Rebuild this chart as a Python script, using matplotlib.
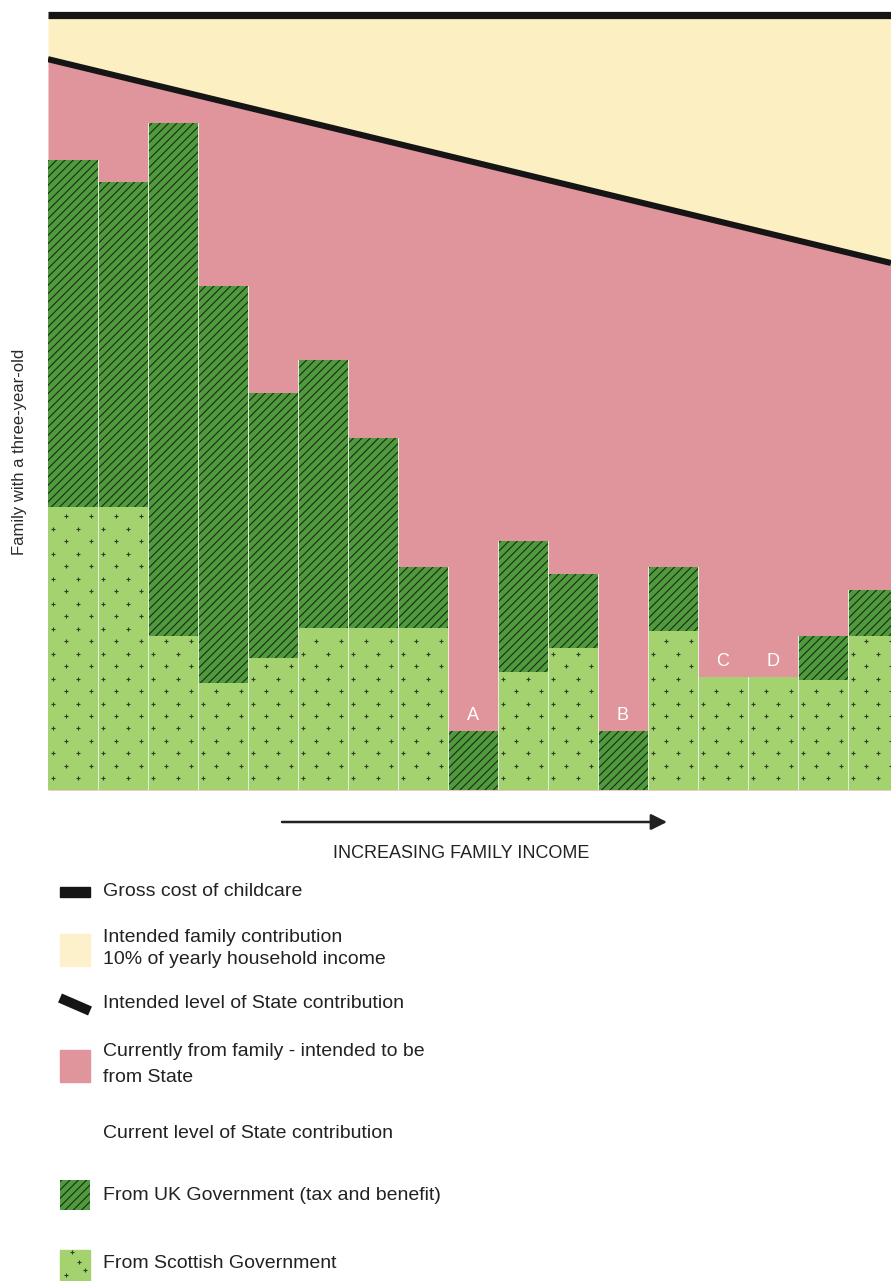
import matplotlib
matplotlib.use('Agg')
import matplotlib.pyplot as plt
from matplotlib.patches import Rectangle

plt.rcParams['font.family'] = ['Liberation Sans', 'DejaVu Sans']
plt.rcParams['hatch.linewidth'] = 0.8
plt.rcParams['hatch.color'] = '#1c2a16'

# ---------------- data (relative cost units, gross cost = 100) ----------------
families = list(range(1, 18))
scottish = [36.5, 36.5, 19.9, 13.8, 17.0, 20.9, 20.9, 20.9, 0.0, 15.2, 18.3, 0.0,
            20.5, 14.6, 14.6, 14.2, 19.9]
uk = [44.8, 42.0, 66.2, 51.2, 34.2, 34.6, 24.5, 7.9, 7.6, 16.9, 9.6, 7.6,
      8.3, 0.0, 0.0, 5.7, 5.9]
bar_labels = ['', '', '', '', '', '', '', '', 'A', '', '', 'B', '', 'C', 'D', '', '']
gross_cost = 100.0
income_ends = [0.0, 16.86]
intended_state = [94.3, 68.0]

# ---------------- colours ----------------
YELLOW = '#fcefc2'
PINK = '#df959b'
UKGREEN = '#4f9a3c'
SCGREEN = '#a4d26f'
BLACK = '#151515'
CROSS = '#2e3d27'

W, H = 891, 1281
fig = plt.figure(figsize=(W / 100, H / 100), dpi=100)
ax = fig.add_axes([48 / W, 1 - 790 / H, 1 - 48 / W, (790 - 8) / H])
ax.set_xlim(income_ends[0], income_ends[1])
ax.set_ylim(0, (790 - 8) / 7.75)
ax.axis('off')

# backgrounds
ax.fill_between(income_ends, 0, intended_state, color=PINK, lw=0, zorder=1)
ax.fill_between(income_ends, intended_state, gross_cost, color=YELLOW, lw=0, zorder=1)

# bars
x = list(range(len(families)))
ax.bar(x, scottish, width=1, align='edge', color=SCGREEN, lw=0, zorder=2)
ax.bar(x, uk, width=1, align='edge', bottom=scottish, facecolor=UKGREEN,
       hatch='////', lw=0, zorder=2)

# cross texture on Scottish bars
xs, ys = [], []
row_h = 1.61
for r in range(30):
    yy = 1.5 + r * row_h
    off = 0.1 if r % 2 == 0 else 0.35
    for k in range(40):
        xx = off + k * 0.5
        i = int(xx)
        if i < len(scottish) and xx < income_ends[1] and yy < scottish[i] - 0.5:
            xs.append(xx)
            ys.append(yy)
ax.scatter(xs, ys, marker='+', s=10, linewidths=0.8, color=CROSS, zorder=3)

# separators between bars
totals = [s + u for s, u in zip(scottish, uk)]
for i in range(1, len(families)):
    top = max(totals[i - 1], totals[i])
    ax.plot([i, i], [0, top], color='#e4efe0', lw=0.7, zorder=4)

# lines
ax.plot(income_ends, [gross_cost, gross_cost], color=BLACK, lw=5.2,
        solid_capstyle='butt', zorder=5)
ax.plot(income_ends, intended_state, color=BLACK, lw=4.4,
        solid_capstyle='butt', zorder=5)

# bar letters
for i, lab in enumerate(bar_labels):
    if lab:
        ax.text(i + 0.5, totals[i] + 0.9, lab, color='white', ha='center',
                va='bottom', fontsize=13, zorder=6)

# ---------------- overlay in pixel coordinates ----------------
ov = fig.add_axes([0, 0, 1, 1])
ov.set_xlim(0, W)
ov.set_ylim(H, 0)
ov.axis('off')

ov.text(20, 452, 'Family with a three-year-old', rotation=90, ha='center',
        va='center', fontsize=12, color='#2a2a2a')

ov.annotate('', xy=(667, 822), xytext=(282, 822),
            arrowprops=dict(arrowstyle='-|>', color='#222222', lw=1.8,
                            mutation_scale=24, shrinkA=0, shrinkB=0))
ov.text(461, 853, 'INCREASING FAMILY INCOME', ha='center', va='center',
        fontsize=13, color='#222222')

TX = 103
FS = 14
TC = '#222222'
# gross cost icon
ov.add_patch(Rectangle((60, 887), 30, 10, color=BLACK))
ov.text(TX, 892, 'Gross cost of childcare', va='center', fontsize=FS, color=TC)
# intended family contribution
ov.add_patch(Rectangle((60, 934), 30, 32, color='#fdf1cb'))
ov.text(TX, 937, 'Intended family contribution', va='center', fontsize=FS, color=TC)
ov.text(TX, 960, '10% of yearly household income', va='center', fontsize=FS, color=TC)
# intended state
ov.plot([60, 90], [998, 1011], color=BLACK, lw=7, solid_capstyle='butt')
ov.text(TX, 1004, 'Intended level of State contribution', va='center', fontsize=FS, color=TC)
# pink
ov.add_patch(Rectangle((60, 1050), 30, 32, color=PINK))
ov.text(TX, 1052, 'Currently from family - intended to be', va='center', fontsize=FS, color=TC)
ov.text(TX, 1077, 'from State', va='center', fontsize=FS, color=TC)
# current level
ov.text(TX, 1134, 'Current level of State contribution', va='center', fontsize=FS, color=TC)
# UK
ov.add_patch(Rectangle((60, 1180), 30, 30, facecolor=UKGREEN, hatch='////', lw=0))
ov.text(TX, 1195, 'From UK Government (tax and benefit)', va='center', fontsize=FS, color=TC)
# Scottish
ov.add_patch(Rectangle((60, 1250), 30, 31, color=SCGREEN))
ov.scatter([66, 79, 72, 85], [1275, 1262, 1252, 1270], marker='+', s=10,
           linewidths=0.8, color=CROSS)
ov.text(TX, 1264, 'From Scottish Government', va='center', fontsize=FS, color=TC)

fig.savefig('out.png', dpi=100)
